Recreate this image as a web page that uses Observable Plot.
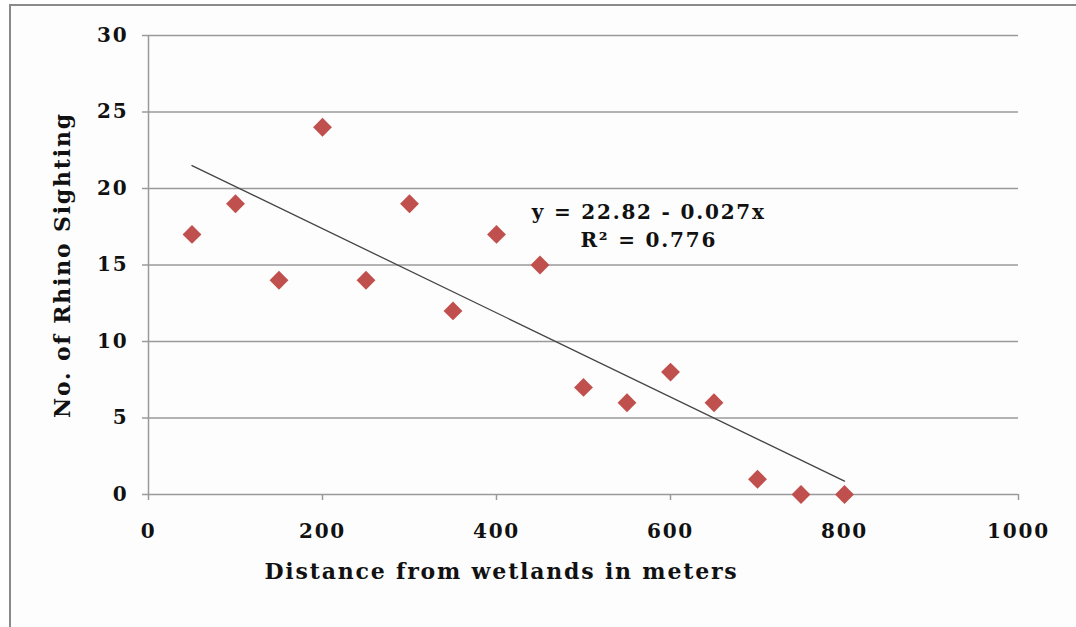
<!DOCTYPE html>
<html>
<head>
<meta charset="utf-8">
<script src="https://cdn.jsdelivr.net/npm/d3@7"></script>
<script src="https://cdn.jsdelivr.net/npm/@observablehq/plot@0.6"></script>
<style>
  html, body { margin: 0; padding: 0; background: #fff; overflow: hidden; }
  #wrap { position: relative; width: 1076px; height: 627px; overflow: hidden; }
  #frame { position: absolute; left: 9px; top: 4px; width: 1100px; height: 700px;
           border: 2px solid #8a8a8a; background: #fdfdfd; }
  #chart { position: absolute; left: 0; top: 0; }
  svg { font-family: "DejaVu Serif", serif; font-weight: bold; }
  svg text { letter-spacing: 1.8px; }
</style>
</head>
<body>
<div id="wrap"><div id="frame"></div><div id="chart"></div></div>
<script>
const distance = [50, 100, 150, 200, 250, 300, 350, 400, 450, 500, 550, 600, 650, 700, 750, 800];
const sightings = [17, 19, 14, 24, 14, 19, 12, 17, 15, 7, 6, 8, 6, 1, 0, 0];
const trendX = [50, 800];
const trendY = [21.5, 0.87];
const xTicks = [0, 200, 400, 600, 800, 1000];
const yTicks = [0, 5, 10, 15, 20, 25, 30];
const xTitle = "Distance from wetlands in meters";
const yTitle = "No. of Rhino Sighting";
const equation = "y = 22.82 - 0.027x\nR\u00B2 = 0.776";

const points = distance.map((d, i) => ({x: d, y: sightings[i]}));
const trend = trendX.map((d, i) => ({x: d, y: trendY[i]}));

const chart = Plot.plot({
  width: 1076,
  height: 627,
  marginLeft: 148,
  marginRight: 58,
  marginTop: 35,
  marginBottom: 133,
  style: {background: "transparent", fontFamily: "DejaVu Serif, serif", fontWeight: "bold", fontSize: "20px", color: "#111"},
  x: {domain: [0, 1000]},
  y: {domain: [0, 30]},
  marks: [
    Plot.ruleY(yTicks, {stroke: "#9a9a9a", strokeWidth: 1.5}),
    Plot.ruleX([0], {stroke: "#9a9a9a", strokeWidth: 1.5}),
    Plot.axisY(yTicks, {tickSize: 6, tickPadding: 14, stroke: "#9a9a9a", strokeWidth: 1.5, fontSize: 20, label: null, tickFormat: d => String(d)}),
    Plot.axisX(xTicks, {tickSize: 6, tickPadding: 23, stroke: "#9a9a9a", strokeWidth: 1.5, fontSize: 20, label: null, tickFormat: d => String(d)}),
    Plot.line(trend, {x: "x", y: "y", stroke: "#444", strokeWidth: 1.3}),
    Plot.dot(points, {x: "x", y: "y", symbol: "diamond2", r: 8.5, fill: "#C0504D", stroke: "none"}),
    Plot.text([equation], {x: 575, y: 17.7, text: d => d, fontSize: 20, lineHeight: 1.4, fill: "#111"}),
    Plot.text([xTitle], {frameAnchor: "bottom", dx: -82, dy: 84, fontSize: 22, fill: "#111"}),
    Plot.text([yTitle], {frameAnchor: "left", textAnchor: "middle", dx: -86, rotate: -90, fontSize: 22, fill: "#111"})
  ]
});
document.getElementById("chart").appendChild(chart);
</script>
</body>
</html>
